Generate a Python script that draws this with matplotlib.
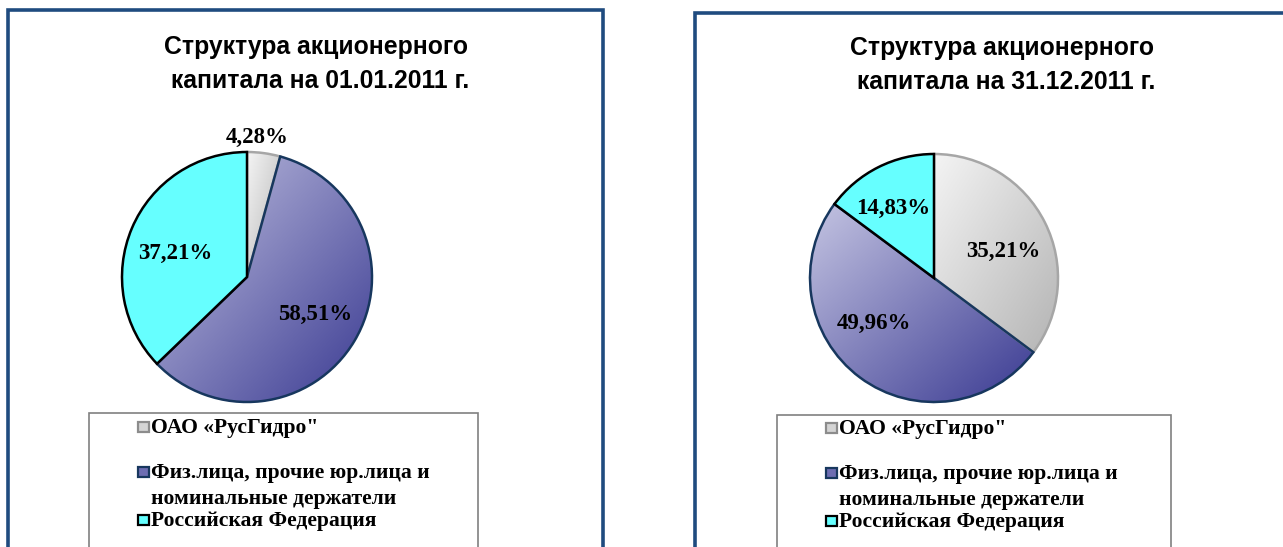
import numpy as np
import matplotlib
matplotlib.use('Agg')
import matplotlib.pyplot as plt
from matplotlib.patches import Rectangle
from matplotlib.colors import LinearSegmentedColormap

# ---------------- data ----------------
categories = ['ОАО «РусГидро"',
              'Физ.лица, прочие юр.лица и\nноминальные держатели',
              'Российская Федерация']
values_2011_start = [4.28, 58.51, 37.21]
values_2011_end = [35.21, 49.96, 14.83]
title_start = ['Структура акционерного', ' капитала на 01.01.2011 г.']
title_end = ['Структура акционерного', ' капитала на 31.12.2011 г.']

# ---------------- style ----------------
W, H = 1283, 547
fig = plt.figure(figsize=(W / 100, H / 100), dpi=100)
fig.patch.set_facecolor('white')

def fx(x):
    return x / W

def fy(y):
    return 1 - y / H

grad_maps = [
    LinearSegmentedColormap.from_list('g', ['#f4f4f4', '#b4b4b4']),
    LinearSegmentedColormap.from_list('b', ['#c4c4e2', '#3a3a92']),
    None,
]
solid_faces = [None, None, '#66ffff']
edge_colors = ['#a6a6a6', '#17375e', '#000000']
marker_faces = ['#d4d4d4', '#6d6db2', '#66ffff']
marker_edges = ['#8c8c8c', '#17375e', '#000000']

serif = ['Liberation Serif', 'DejaVu Serif']
sans = ['Liberation Sans', 'DejaVu Sans']


def fmt(v):
    return ('%.2f' % v).replace('.', ',') + '%'


def draw_panel(values, title, cx, cy, R, label_r, label_shift, panel, legend_box,
               legend_dx, legend_dy, title_x):
    # panel border
    px0, py0, px1, py1 = panel
    fig.patches.append(Rectangle((fx(px0), fy(py1)), fx(px1 - px0), (py1 - py0) / H,
                                 transform=fig.transFigure, fill=False,
                                 edgecolor='#1f4b7f', linewidth=2.6, zorder=0))
    # title
    fig.text(fx(title_x), fy(47 + legend_dy), title[0], ha='center', va='center',
             fontsize=17.8, fontweight='bold', family=sans, color='#000000')
    fig.text(fx(title_x + 1), fy(81 + legend_dy), title[1], ha='center', va='center',
             fontsize=17.8, fontweight='bold', family=sans, color='#000000')

    # pie axes
    ax = fig.add_axes([fx(cx - R), fy(cy + R), 2 * R / W, 2 * R / H])
    ax.set_xlim(-1, 1)
    ax.set_ylim(-1, 1)
    ax.set_aspect('equal')
    ax.axis('off')
    wedges, _ = ax.pie(values, startangle=90, counterclock=False, radius=1,
                       center=(0, 0), frame=False)
    ax.set_xlim(-1, 1)
    ax.set_ylim(-1, 1)
    xs = np.linspace(-1, 1, 400)
    X, Y = np.meshgrid(xs, xs[::-1])
    for i, w in enumerate(wedges):
        w.set_linewidth(1.8)
        w.set_edgecolor(edge_colors[i])
        w.set_zorder(2 + i)
        if grad_maps[i] is None:
            w.set_facecolor(solid_faces[i])
        else:
            w.set_facecolor('none')
            ang = np.radians(np.linspace(w.theta1, w.theta2, 200))
            px = np.concatenate([[0], np.cos(ang)])
            py = np.concatenate([[0], np.sin(ang)])
            x0, x1 = px.min(), px.max()
            y0, y1 = py.min(), py.max()
            t = ((X - x0) / (x1 - x0 + 1e-9) + (y1 - Y) / (y1 - y0 + 1e-9)) / 2
            t = np.clip(t, 0, 1)
            im = ax.imshow(t, extent=[-1, 1, -1, 1], cmap=grad_maps[i], vmin=0, vmax=1,
                           zorder=1 + i * 0.1, interpolation='bilinear')
            im.set_clip_path(w)
        # label
        mid = (w.theta1 + w.theta2) / 2 + label_shift[i]
        a = np.radians(mid)
        ax.text(label_r[i] * np.cos(a), label_r[i] * np.sin(a), fmt(values[i]),
                ha='center', va='center', fontsize=16.5, fontweight='bold',
                family=serif, color='black', zorder=10, clip_on=False)

    # legend box
    lx0, ly0, lx1, ly1 = legend_box
    fig.patches.append(Rectangle((fx(lx0), fy(ly1)), (lx1 - lx0) / W, (ly1 - ly0) / H,
                                 transform=fig.transFigure, fill=False,
                                 edgecolor='#808080', linewidth=1.2, zorder=5))
    rows = [[427], [472, 498], [520]]
    for i, cat in enumerate(categories):
        lines = cat.split('\n')
        my = rows[i][0] + legend_dy
        ms = 10.5
        fig.patches.append(Rectangle((fx(138 + legend_dx), fy(my + ms / 2)), ms / W, ms / H,
                                     transform=fig.transFigure, facecolor=marker_faces[i],
                                     edgecolor=marker_edges[i], linewidth=1.6, zorder=6))
        for j, line in enumerate(lines):
            fig.text(fx(151 + legend_dx), fy(rows[i][j] + legend_dy + 1), line, ha='left',
                     va='center', fontsize=15.6, fontweight='bold', family=serif,
                     color='black')


draw_panel(values_2011_start, title_start, 247, 277, 125,
           label_r=[1.12, 0.62, 0.60], label_shift=[3.6, 2.0, 5.0],
           panel=(8, 10, 603, 600), legend_box=(89, 413, 478, 600),
           legend_dx=0, legend_dy=0, title_x=316)
draw_panel(values_2011_end, title_end, 934, 278, 124,
           label_r=[0.60, 0.61, 0.65], label_shift=[-6.0, -16.0, 4.0],
           panel=(695, 13, 1300, 600), legend_box=(777, 415, 1171, 600),
           legend_dx=688, legend_dy=1, title_x=1002)

fig.savefig('out.png', dpi=100, facecolor='white')
